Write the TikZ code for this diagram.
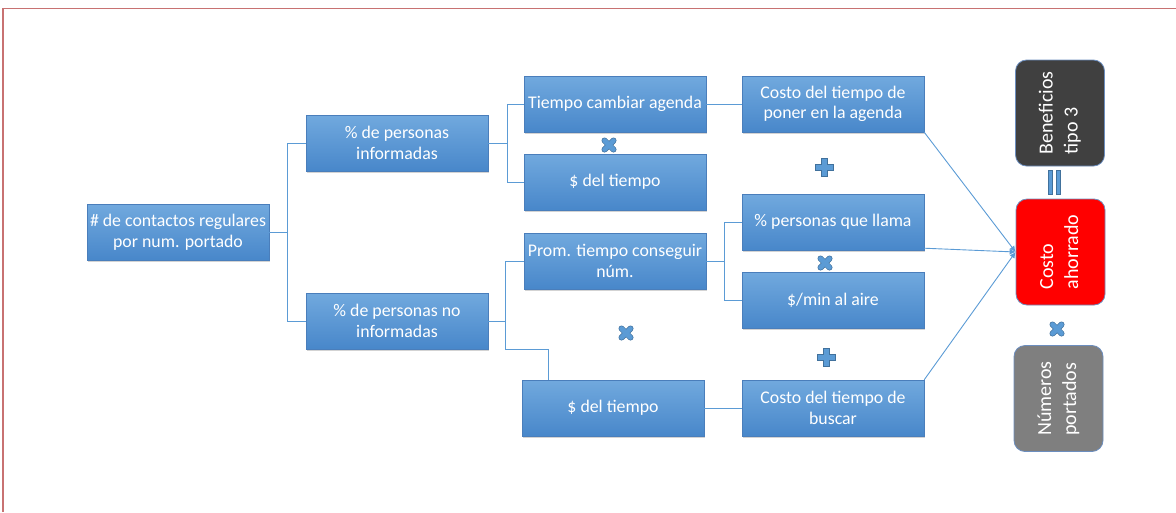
\documentclass[tikz,border=0pt]{standalone}
\usepackage{fontspec}
\setmainfont{Carlito}
\usetikzlibrary{shadows,arrows.meta}
\definecolor{boxtop}{HTML}{71A9DE}
\definecolor{boxbot}{HTML}{4887CA}
\definecolor{boxline}{HTML}{4A7EBB}
\definecolor{conncol}{HTML}{5B9BD5}
\definecolor{framecol}{HTML}{C87272}
\definecolor{symbcol}{HTML}{5B9BD5}
\definecolor{symbline}{HTML}{41719C}
\definecolor{darkbox}{HTML}{404040}
\definecolor{graybox}{HTML}{7F7F7F}
\definecolor{redbox}{HTML}{FF0000}
\definecolor{rboxline}{HTML}{6C8EBF}
\begin{document}
\begin{tikzpicture}[x=1pt,y=-1pt,
  bbox/.style={rectangle, minimum width=182pt, minimum height=56pt, inner sep=1pt,
    top color=boxtop, bottom color=boxbot, draw=boxline, line width=0.4pt,
    drop shadow={shadow xshift=1pt, shadow yshift=-2pt, opacity=0.35},
    text=white, font=\fontsize{17.8}{20.5}\selectfont, align=center},
  rbox/.style={rectangle, rounded corners=11pt, minimum width=89pt, minimum height=106pt,
    draw=rboxline, line width=0.8pt, text=white, font=\fontsize{20}{25}\selectfont, inner sep=0pt},
  conn/.style={draw=conncol, line width=0.9pt},
  mulsign/.pic={\draw[symbline, line width=6pt, line cap=round] (-4.5,-4.5)--(4.5,4.5) (-4.5,4.5)--(4.5,-4.5);
                \draw[symbcol, line width=4.6pt, line cap=round] (-4.5,-4.5)--(4.5,4.5) (-4.5,4.5)--(4.5,-4.5);},
  addsign/.pic={\filldraw[fill=symbcol, draw=symbline, line width=0.5pt]
      (-3,-9)--(3,-9)--(3,-3)--(9,-3)--(9,3)--(3,3)--(3,9)--(-3,9)--(-3,3)--(-9,3)--(-9,-3)--(-3,-3)--cycle;},
  eqsign/.pic={\filldraw[fill=symbcol, draw=symbline, line width=0.5pt] (-6,-12) rectangle (-2,12);
               \filldraw[fill=symbcol, draw=symbline, line width=0.5pt] (2,-12) rectangle (6,12);}
]
\useasboundingbox (0,0) rectangle (1176,512);
\draw[framecol, line width=1.5pt] (3,512) -- (3,8.5) -- (1176,8.5);

\node[bbox] (root) at (178,232) {\# de contactos regulares\\por num. portado};
\node[bbox] (inf) at (397,143) {\% de personas\\informadas};
\node[bbox] (noinf) at (397,321) {\% de personas no\\informadas};
\node[bbox] (tca) at (615,104) {Tiempo cambiar agenda};
\node[bbox] (dtt) at (615,182) {\$ del tiempo};
\node[bbox] (prom) at (615,261) {Prom. tiempo conseguir\\núm.};
\node[bbox] (dtb) at (613,408) {\$ del tiempo};
\node[bbox] (cpa) at (833,104) {Costo del tiempo de\\poner en la agenda};
\node[bbox] (pql) at (833,222) {\% personas que llama};
\node[bbox] (min) at (833,300) {\$/min al aire};
\node[bbox] (cb) at (833,408) {Costo del tiempo de\\buscar};

\node[rbox, fill=darkbox] (ben) at (1060,113) {\rotatebox{90}{\begin{tabular}{@{}l@{}}Beneficios\\tipo 3\end{tabular}}};
\node[rbox, fill=redbox] (ca) at (1060.5,252) {\rotatebox{90}{\begin{tabular}{@{}l@{}}Costo\\ahorrado\end{tabular}}};
\node[rbox, fill=graybox] (np) at (1058.5,398.5) {\rotatebox{90}{\begin{tabular}{@{}l@{}}Números\\portados\end{tabular}}};

% tree connectors
\draw[conn] (root.east) -- ++(18,0) coordinate (j1);
\draw[conn] (inf.west) -| (j1) |- (noinf.west);
\draw[conn] (inf.east) -- ++(19,0) coordinate (j2);
\draw[conn] (tca.west) -| (j2) |- (dtt.west);
\draw[conn] (noinf.east) -- ++(17,0) coordinate (j3);
\coordinate (k) at ([xshift=-65pt]dtb.north);
\draw[conn] (prom.west) -| (j3) |- ([yshift=30pt]k) -- (k);
\draw[conn] (tca.east) -- (cpa.west);
\draw[conn] (prom.east) -- ++(18,0) coordinate (j4);
\draw[conn] (pql.west) -| (j4) |- (min.west);
\draw[conn] (dtb.east) -- (cb.west);

% converging lines
\draw[conn, -{Latex[length=6pt,width=6pt]}] (cpa.south east) -- (ca.west);
\draw[conn, -{Latex[length=6pt,width=6pt]}] ([yshift=2pt]pql.south east) -- (ca.west);
\draw[conn, -{Latex[length=6pt,width=6pt]}] (cb.north east) -- (ca.west);

% operators
\pic at (609,145) {mulsign};
\pic at (824,167) {addsign};
\pic at (825,263) {mulsign};
\pic at (626,333) {mulsign};
\pic at (826,357) {addsign};
\pic at (1054,182) {eqsign};
\pic at (1057,329) {mulsign};
\end{tikzpicture}
\end{document}
